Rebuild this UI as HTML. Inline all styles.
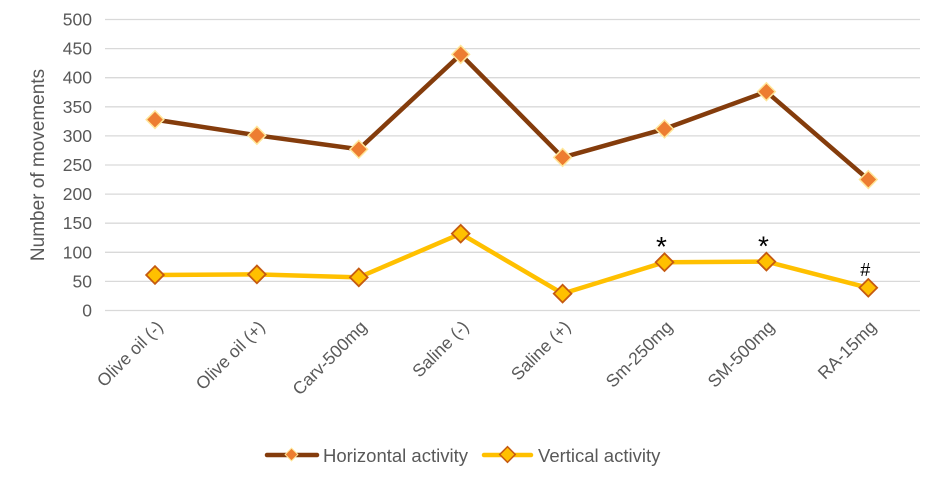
<!DOCTYPE html>
<html><head><meta charset="utf-8"><style>
body{margin:0;background:#fff;}
svg text{font-family:"Liberation Sans",sans-serif;fill:#595959;}
</style></head><body>
<svg id="c" width="931" height="473" xmlns="http://www.w3.org/2000/svg">
<g id="grid"></g><g id="ylab"></g><g id="xlab"></g><g id="series"></g>
<text transform="translate(44,165) rotate(-90)" text-anchor="middle" font-size="19">Number of movements</text>
<g>
 <g>
  <line x1="267" y1="455" x2="317" y2="455" stroke="#843C0C" stroke-width="4.5" stroke-linecap="round"/>
  <rect x="287" y="450" width="9" height="9" fill="#ED7D31" stroke="#FFE699" stroke-width="1" transform="rotate(45 291.5 454.5)"/>
  <text x="323" y="462" font-size="18.5">Horizontal activity</text>
 </g>
 <g>
  <line x1="484" y1="455" x2="531" y2="455" stroke="#FFC000" stroke-width="4.5" stroke-linecap="round"/>
  <rect x="502" y="449" width="11" height="11" fill="#FFC000" stroke="#C55A11" stroke-width="1.5" transform="rotate(45 507.5 454.5)"/>
  <text x="538" y="462" font-size="18.5">Vertical activity</text>
 </g>
</g>
</svg>
<script>
const categories=["Olive oil (-)","Olive oil (+)","Carv-500mg","Saline (-)","Saline (+)","Sm-250mg","SM-500mg","RA-15mg"];
const horizontal=[328,301,277,440,263,312,376,225];
const vertical=[61,62,57,132,29,83,84,39];
const annotations=["","","","","","*","*","#"];
const yTicks=[0,50,100,150,200,250,300,350,400,450,500];
const NS="http://www.w3.org/2000/svg";
const y=v=>310.5-v*(291/500);
const x=i=>155+i*101.9;
function mk(t,a,p){const e=document.createElementNS(NS,t);for(const k in a)e.setAttribute(k,a[k]);p.appendChild(e);return e;}
const grid=document.getElementById('grid'),ylab=document.getElementById('ylab'),xlab=document.getElementById('xlab'),ser=document.getElementById('series');
yTicks.forEach(v=>{
 const l=mk('line',{x1:105,x2:920,y1:y(v),y2:y(v),stroke:'#d9d9d9','stroke-width':1.3},grid);
 
 
 const t=mk('text',{x:92,y:y(v)+6,'text-anchor':'end','font-size':17.5},ylab);t.textContent=v;
 
 
});
categories.forEach((c,i)=>{
 const t=mk('text',{x:x(i)+9,y:328,'text-anchor':'end','font-size':17.5,transform:`rotate(-45 ${x(i)+9} 328)`},xlab);t.textContent=c;
 
 
});
function series(vals,col,w,fill,stroke,size,sw,name){
 const p=mk('polyline',{points:vals.map((v,i)=>x(i)+','+y(v)).join(' '),fill:'none',stroke:col,'stroke-width':w,'stroke-linejoin':'round'},ser);
 
 
 vals.forEach((v,i)=>{
  const r=mk('rect',{x:x(i)-size/2,y:y(v)-size/2,width:size,height:size,fill:fill,stroke:stroke,'stroke-width':sw,transform:`rotate(45 ${x(i)} ${y(v)})`},ser);
  
  
 });
}
series(horizontal,'#843C0C',4.5,'#ED7D31','#FFE699',12.5,1.5,'horizontal');
series(vertical,'#FFC000',4.5,'#FFC000','#C55A11',12.5,1.8,'vertical');
annotations.forEach((a,i)=>{
 if(!a)return;
 const t=mk('text',{x:x(i)-3,y:y(vertical[i])-(a=='*'?6:12),'text-anchor':'middle','font-size':a=='*'?28:18},ser);
 t.textContent=a;t.style.fill='#000';
 
 
});
</script>
</body></html>
